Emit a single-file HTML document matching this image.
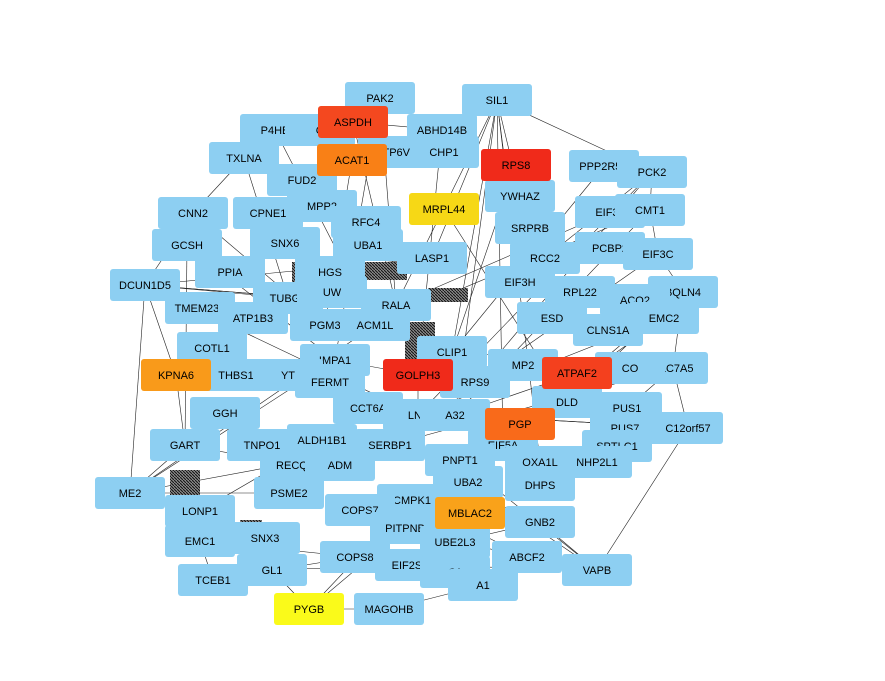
<!DOCTYPE html>
<html><head><meta charset="utf-8"><style>
html,body{margin:0;padding:0;background:#fff;}
svg{display:block;font-family:"Liberation Sans",sans-serif;}
</style></head><body>
<svg id="net" width="885" height="681" viewBox="0 0 885 681">
<defs><pattern id="hatch" width="3" height="3" patternUnits="userSpaceOnUse"><rect width="3" height="3" fill="#888"/><line x1="0" y1="0" x2="3" y2="3" stroke="#111" stroke-width="1"/></pattern></defs>
<g id="edges"></g>
<g id="nodes"></g>
</svg>
<script>
const labels=["PAK2","SIL1","P4HB","ABHD14B","G","TXLNA","CHP1","ATP6V","PPP2R5E","PCK2","FUD2","YWHAZ","EIF3L","CMT1","CNN2","CPNE1","MPP2","RFC4","SRPRB","GCSH","SNX6","UBA1","RCC2","PCBP2","EIF3C","DCUN1D5","PPIA","HGS","LASP1","EIF3H","RPL22","BQLN4","TMEM230","TUBG1","UW","ACO2","RALA","EMC2","ATP1B3","PGM3","ACM1L","ESD","CLNS1A","COTL1","IMPA1","CLIP1","SLC7A5","THBS1","YT","FERMT","RPS9","MP2","CO","PUS1","DLD","CCT6A","LN1","A32","GGH","PUS7","C12orf57","GART","TNPO1","ALDH1B1","SERBP1","EIF5A","SPTLC1","RECQL","ADM","PNPT1","OXA1L","NHP2L1","ME2","PSME2","UBA2","DHPS","CMPK1","COPS7","LONP1","GNB2","PITPNB","EMC1","SNX3","UBE2L3","ABCF2","COPS8","EIF2S2","C1","VAPB","TCEB1","GL1","A1","MAGOHB","ASPDH","ACAT1","RPS8","MRPL44","KPNA6","GOLPH3","ATPAF2","PGP","MBLAC2","PYGB"];
const xs=[380,497,275,442,320,244,444,393,604,652,302,520,610,650,193,268,322,366,530,187,285,368,545,610,658,145,230,330,432,520,580,683,200,288,332,635,396,664,253,325,375,552,608,212,335,452,673,236,288,330,475,523,630,627,567,368,418,455,225,625,688,185,262,322,390,503,617,295,340,460,540,597,130,289,468,540,412,360,200,540,405,200,265,455,527,355,410,455,597,213,272,483,389,353,352,516,444,176,418,577,520,470,309];
const ys=[98,100,130,130,130,158,152,152,166,172,180,196,212,210,213,213,206,222,228,245,243,245,258,248,254,285,272,272,258,282,292,292,308,298,292,300,305,318,318,325,325,318,330,348,360,352,368,375,375,382,382,365,368,408,402,408,415,415,413,428,428,445,445,440,445,445,446,465,465,460,462,462,493,493,482,485,500,510,511,522,528,541,538,542,557,557,565,572,570,580,570,585,609,122,160,165,209,375,375,373,424,513,609];
const colors={"ASPDH":"#f4481f","ACAT1":"#f98016","RPS8":"#f02a1a","MRPL44":"#f6d816","KPNA6":"#f99a1a","GOLPH3":"#f02a1a","ATPAF2":"#f4401e","PGP":"#f96a1a","MBLAC2":"#f9a21a","PYGB":"#fafa1a"};
const edgeSrc=[0,0,1,1,1,3,8,9,12,13,24,31,37,46,60,60,88,88,84,91,79,72,72,25,25,19,14,5,2,61,78,81,89,90,102,102,98,98,99,95,93,94,96,1,1,9,31,46,88,88,72,25,60,13,37,25,19,14,5,2,0,1,9,13,24,31,46,60,88,84,91,92,102,90,89,81,78,72,61,97,25,1,1,1,0,3,9,31,46,60,88,88,72,72,25,14];
const edgeDst=[36,44,36,57,45,98,45,56,36,57,50,65,56,45,70,57,74,83,76,69,83,64,73,36,28,44,39,33,40,67,63,85,85,86,76,80,56,44,57,45,36,39,54,65,70,50,54,64,69,86,44,56,57,40,76,72,61,25,14,5,2,9,13,24,31,46,60,88,84,91,92,102,90,89,81,78,72,61,97,25,36,28,29,11,3,93,22,35,53,71,79,84,40,78,33,26];
const W=70,H=32;
const eg=document.getElementById('edges'),ng=document.getElementById('nodes');
for(let i=0;i<edgeSrc.length;i++){
 const a=edgeSrc[i],b=edgeDst[i];
 const l=document.createElementNS('http://www.w3.org/2000/svg','line');
 
 
 l.setAttribute('x1',xs[a]);l.setAttribute('y1',ys[a]);l.setAttribute('x2',xs[b]);l.setAttribute('y2',ys[b]);
 l.setAttribute('stroke','#222');l.setAttribute('stroke-width','0.6');
 eg.appendChild(l);
}
[[362,262,45,18],[428,288,40,14],[405,322,30,40],[240,520,22,28],[170,470,30,26],[292,262,6,24]].forEach(p=>{
 const r=document.createElementNS('http://www.w3.org/2000/svg','rect');
 
 
 r.setAttribute('x',p[0]);r.setAttribute('y',p[1]);r.setAttribute('width',p[2]);r.setAttribute('height',p[3]);
 r.setAttribute('fill','url(#hatch)');eg.appendChild(r);
});
for(let i=0;i<labels.length;i++){
 const g=document.createElementNS('http://www.w3.org/2000/svg','g');
 
 
 const r=document.createElementNS('http://www.w3.org/2000/svg','rect');
 r.setAttribute('x',xs[i]-W/2);r.setAttribute('y',ys[i]-H/2);r.setAttribute('width',W);r.setAttribute('height',H);
 r.setAttribute('rx',3);r.setAttribute('fill',colors[labels[i]]||'#8dcff2');
 const t=document.createElementNS('http://www.w3.org/2000/svg','text');
 t.setAttribute('x',xs[i]);t.setAttribute('y',ys[i]+4);t.setAttribute('text-anchor','middle');
 t.setAttribute('font-size','11');t.setAttribute('fill','#000');t.textContent=labels[i];
 g.appendChild(r);g.appendChild(t);ng.appendChild(g);
}
</script>
</body></html>
